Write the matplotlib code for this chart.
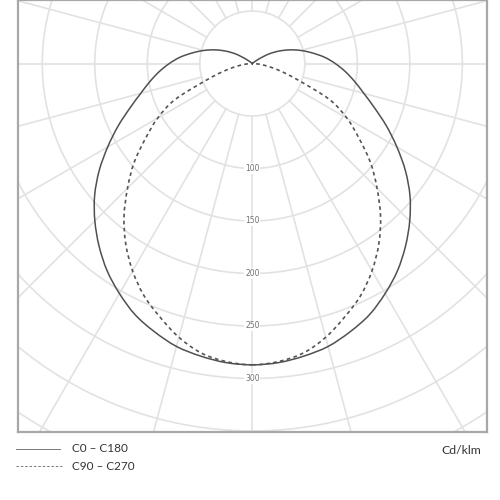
import numpy as np
import matplotlib
matplotlib.use("Agg")
import matplotlib.pyplot as plt
from matplotlib.path import Path
from matplotlib.patches import PathPatch

# luminous intensity (cd/klm) vs angle from nadir
angles = [0, 5, 10, 15, 20, 25, 30, 35, 40, 45, 50, 55, 60, 65, 70, 75, 80, 85, 90,
          95, 100, 105, 110, 115, 120, 125, 130, 140, 150, 160, 170, 180]
c0_c180 = [287, 286, 283, 279, 272, 264, 253, 241, 227, 212, 196, 178, 159, 141, 124, 110, 99, 89, 79,
           69, 58, 48, 38, 28, 18, 7, 0, 0, 0, 0, 0, 0]
c90_c270 = [287, 285, 280, 270, 257, 244, 228, 210, 190, 168, 147, 124, 104, 81, 47, 28, 15, 6, 0,
            0, 0, 0, 0, 0, 0, 0, 0, 0, 0, 0, 0, 0]

rings = [50, 100, 150, 200, 250, 300, 350, 400, 450]
ring_labels = [100, 150, 200, 250, 300]
spokes = list(range(0, 360, 15))

legend_names = ["C0 \u2013 C180", "C90 \u2013 C270"]
unit_label = "Cd/klm"

plt.rcParams['font.family'] = ['Lato', 'DejaVu Sans']

fig = plt.figure(figsize=(5, 5), dpi=100)
ax = fig.add_axes([0.036, 0.136, 0.938, 0.864])

grid_col = "#e2e2e2"
t = np.linspace(0, 2 * np.pi, 400)
for r in rings:
    ax.plot(r * np.cos(t), r * np.sin(t), color=grid_col, lw=1.2, zorder=1)
for a in spokes:
    rad = np.radians(a)
    ax.plot([50 * np.sin(rad), 600 * np.sin(rad)],
            [-50 * np.cos(rad), -600 * np.cos(rad)], color=grid_col, lw=1.2, zorder=1)

for v in ring_labels:
    ax.text(0, -v, str(v), ha="center", va="center", fontsize=5.5, color="#707070",
            family="DejaVu Sans",
            bbox=dict(facecolor="white", edgecolor="none", pad=0.5), zorder=2)


def curve_path(vals):
    th = np.radians(np.array(angles))
    v = np.array(vals, dtype=float)
    # right half (C0 / C90), then the mirrored left half (C180 / C270)
    xr, yr = v * np.sin(th), -v * np.cos(th)
    x = np.concatenate([xr, -xr[-2:0:-1]])
    y = np.concatenate([yr, yr[-2:0:-1]])
    pts = np.column_stack([x, y])
    n = len(pts)
    verts = [pts[0]]
    codes = [Path.MOVETO]
    # smooth closed curve through the read points (cubic bezier segments)
    for i in range(n):
        p0, p1, p2, p3 = pts[i - 1], pts[i], pts[(i + 1) % n], pts[(i + 2) % n]
        verts += [p1 + (p2 - p0) / 6, p2 - (p3 - p1) / 6, p2]
        codes += [Path.CURVE4] * 3
    return Path(verts, codes)


ax.add_patch(PathPatch(curve_path(c0_c180), fill=False, edgecolor="#505050", lw=1.1, zorder=3))
dash = PathPatch(curve_path(c90_c270), fill=False, edgecolor="#555555", lw=1.2, zorder=3)
dash.set_linestyle((0, (2.2, 2.0)))
ax.add_patch(dash)

ax.set_xlim(-223.1, 223.5)
ax.set_ylim(-351, 60.5)
ax.set_xticks([])
ax.set_yticks([])
for s in ax.spines.values():
    s.set_color("#a8a8a8")
    s.set_linewidth(1.6)

# legend below the diagram
fig.add_artist(plt.Line2D([0.032, 0.12], [1 - 449 / 500] * 2, color="#777777", lw=0.7))
fig.add_artist(plt.Line2D([0.032, 0.124], [1 - 466 / 500] * 2, color="#777777", lw=0.7,
                          dashes=(2.5, 2)))
fig.text(0.145, 1 - 449 / 500, legend_names[0], fontsize=8.5, color="#333333", va="center")
fig.text(0.145, 1 - 466 / 500, legend_names[1], fontsize=8.5, color="#333333", va="center")
fig.text(0.962, 1 - 451 / 500, unit_label, fontsize=8.8, color="#333333", va="center", ha="right")

fig.savefig("out.png", dpi=100)
